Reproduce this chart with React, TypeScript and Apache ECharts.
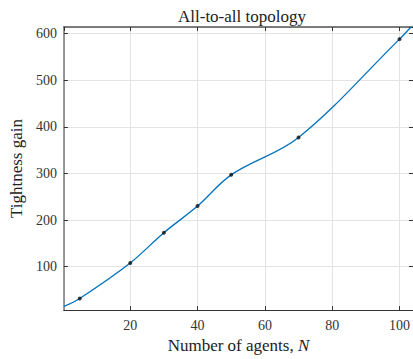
import React, { useEffect, useRef } from "react";
import * as echarts from "echarts";

const agentCounts = [5, 20, 30, 40, 50, 70, 100];
const tightnessGain = [32, 108, 173, 230, 297, 377, 588];
// where the fitted curve meets the plot edges
const curveStart = [0.3, 15];
const curveEnd = [103.4, 614];

const xMin = 0.3;
const xMax = 104;
const yMin = 7;
const yMax = 614;

const FONT = "'Liberation Serif', 'DejaVu Serif', serif";

export default function App() {
  const ref = useRef<HTMLDivElement>(null);
  useEffect(() => {
    if (!ref.current) return;
    const chart = echarts.init(ref.current, undefined, { renderer: "svg" });
    const points = agentCounts.map((n, i) => [n, tightnessGain[i]]);
    const curve = [curveStart, ...points, curveEnd];
    const axisColor = "#333";
    const gridColor = "#e3e3e3";
    chart.setOption({
      animation: false,
      backgroundColor: "#fff",
      title: {
        text: "All-to-all topology",
        left: 237,
        textAlign: "center",
        top: 3,
        textStyle: { fontFamily: FONT, fontSize: 17, fontWeight: "normal", color: "#222" },
      },
      grid: { left: 60, right: 0, top: 27, bottom: 46, containLabel: false },
      xAxis: [
        {
          type: "value",
          min: xMin,
          max: xMax,
          splitNumber: 5,
          position: "bottom",
          name: "Number of agents, {i|N}",
          nameLocation: "middle",
          nameGap: 23,
          nameTextStyle: {
            fontFamily: FONT,
            fontSize: 17,
            color: "#222",
            rich: { i: { fontFamily: FONT, fontSize: 17, fontStyle: "italic", color: "#222" } },
          },
          axisLine: { show: true, lineStyle: { color: axisColor, width: 1.2 } },
          axisTick: { show: true, inside: true, length: 4, lineStyle: { color: axisColor } },
          axisLabel: {
            fontFamily: FONT,
            fontSize: 14,
            color: "#333",
            margin: 8,
            showMinLabel: false,
            showMaxLabel: false,
          },
          splitLine: { show: true, lineStyle: { color: gridColor, width: 1 } },
        },
        {
          type: "value",
          min: xMin,
          max: xMax,
          splitNumber: 5,
          position: "top",
          axisLine: { show: true, lineStyle: { color: "#555", width: 1.5 } },
          axisTick: { show: true, inside: true, length: 4, lineStyle: { color: axisColor } },
          axisLabel: { show: false },
          splitLine: { show: false },
        },
      ],
      yAxis: [
        {
          type: "value",
          min: yMin,
          max: yMax,
          splitNumber: 6,
          position: "left",
          name: "Tightness gain",
          nameLocation: "middle",
          nameGap: 33,
          nameTextStyle: { fontFamily: FONT, fontSize: 17, color: "#222" },
          axisLine: { show: true, lineStyle: { color: "#777", width: 1.5 } },
          axisTick: { show: true, inside: true, length: 4, lineStyle: { color: axisColor } },
          axisLabel: {
            fontFamily: FONT,
            fontSize: 14,
            color: "#333",
            margin: 7,
            showMinLabel: false,
            showMaxLabel: false,
          },
          splitLine: { show: true, lineStyle: { color: gridColor, width: 1 } },
        },
        {
          type: "value",
          min: yMin,
          max: yMax,
          splitNumber: 6,
          position: "right",
          axisLine: { show: false },
          axisTick: { show: true, inside: true, length: 4, lineStyle: { color: axisColor } },
          axisLabel: { show: false },
          splitLine: { show: false },
        },
      ],
      series: [
        {
          type: "line",
          data: curve,
          smooth: 0.35,
          showSymbol: false,
          clip: true,
          lineStyle: { color: "#0072BD", width: 1.3 },
          z: 2,
        },
        {
          type: "scatter",
          data: points,
          symbol: "circle",
          symbolSize: 4,
          itemStyle: { color: "#111" },
          z: 3,
        },
      ],
    });
    return () => chart.dispose();
  }, []);
  return (
    <div
      ref={ref}
      style={{ position: "fixed", left: 0, top: 0, width: 413, height: 359 }}
    />
  );
}
